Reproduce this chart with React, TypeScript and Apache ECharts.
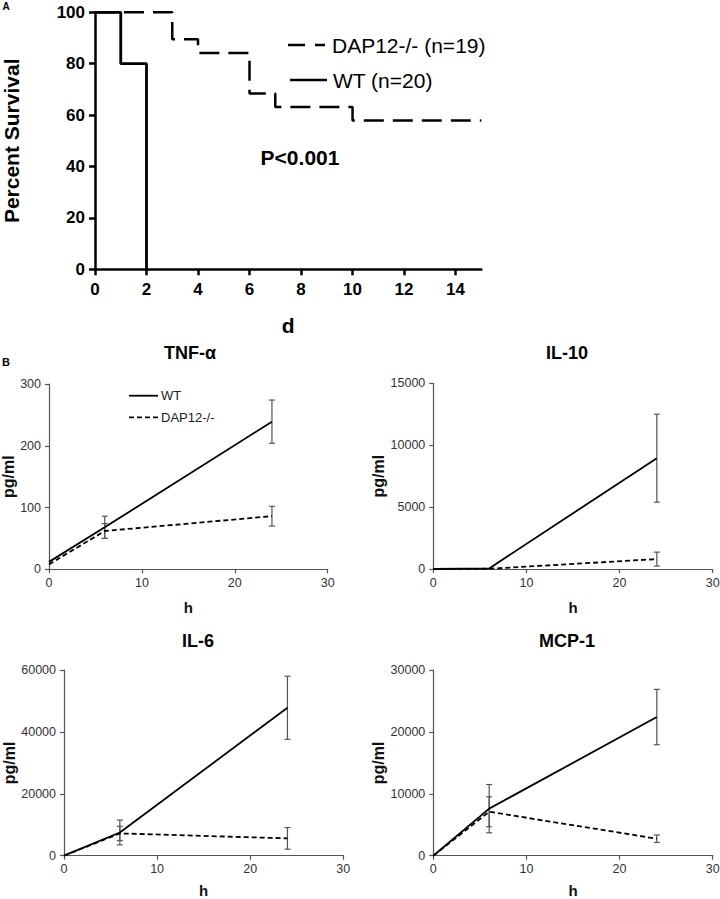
import React, { useEffect, useRef } from 'react';
import * as echarts from 'echarts';

const FONT = "'Liberation Sans', Arial, sans-serif";

// ---- Panel A: Kaplan-Meier survival ----
const dapDays = [0, 3, 4, 6, 7, 10, 15];
const dapSurvival = [100, 89.5, 84.2, 68.4, 63.2, 57.9, 57.9];
const wtDays = [0, 1, 2];
const wtSurvival = [100, 80, 0];
const kmXTicks = [0, 2, 4, 6, 8, 10, 12, 14];
const kmLegend = ['DAP12-/- (n=19)', 'WT (n=20)'];
const pText = 'P<0.001';

// ---- Panel B: cytokines (pg/ml) at hours ----
const hours = [0, 6, 24];
const panelTitles = ['TNF-α', 'IL-10', 'IL-6', 'MCP-1'];
const yMaxes = [300, 15000, 60000, 30000];
const yIntervals = [100, 5000, 20000, 10000];

const tnfWT = [12, 68, 239];
const tnfWTErr = [0, 18, 35];
const tnfDAP = [8, 62, 86];
const tnfDAPErr = [0, 12, 16];

const il10WT = [0, 50, 8950];
const il10WTErr = [0, 0, 3550];
const il10DAP = [0, 20, 800];
const il10DAPErr = [0, 0, 560];

const il6WT = [0, 7500, 47800];
const il6WTErr = [0, 4000, 10200];
const il6DAP = [0, 7200, 5600];
const il6DAPErr = [0, 2300, 3500];

const mcpWT = [0, 7600, 22400];
const mcpWTErr = [0, 3900, 4470];
const mcpDAP = [0, 7100, 2750];
const mcpDAPErr = [0, 2420, 600];

const wtSets = [tnfWT, il10WT, il6WT, mcpWT];
const wtErrSets = [tnfWTErr, il10WTErr, il6WTErr, mcpWTErr];
const dapSets = [tnfDAP, il10DAP, il6DAP, mcpDAP];
const dapErrSets = [tnfDAPErr, il10DAPErr, il6DAPErr, mcpDAPErr];

// layout
const grids = [
  { left: 95, top: 12.3, width: 386.3, height: 257 },
  { left: 49, top: 384, width: 278.7, height: 185.3 },
  { left: 433.3, top: 383.3, width: 279.4, height: 185.7 },
  { left: 64, top: 670, width: 279.3, height: 185.7 },
  { left: 433.3, top: 670, width: 279.4, height: 185.7 },
].map((g) => ({ ...g, containLabel: false, outerBoundsMode: 'none' }));
const yNameGaps = [33, 46, 46, 46];
const xNameGaps = [31, 31, 27, 27];
const titlePos = [
  [190, 353],
  [567, 353],
  [198, 641],
  [567, 641],
];

function errorBarSeries(gridIdx: number, vals: number[], errs: number[]) {
  const data = hours
    .map((h, i) => [h, vals[i] - errs[i], vals[i] + errs[i]])
    .filter((_, i) => errs[i] > 0);
  return {
    type: 'custom',
    xAxisIndex: gridIdx,
    yAxisIndex: gridIdx,
    clip: false,
    silent: true,
    encode: { x: 0, y: [1, 2] },
    data,
    renderItem: (params: any, api: any) => {
      const x = api.value(0);
      const lo = api.coord([x, api.value(1)]);
      const hi = api.coord([x, api.value(2)]);
      const cw = 3;
      const style = { stroke: '#555', lineWidth: 1.2 };
      return {
        type: 'group',
        children: [
          { type: 'line', shape: { x1: hi[0], y1: hi[1], x2: lo[0], y2: lo[1] }, style },
          { type: 'line', shape: { x1: hi[0] - cw, y1: hi[1], x2: hi[0] + cw, y2: hi[1] }, style },
          { type: 'line', shape: { x1: lo[0] - cw, y1: lo[1], x2: lo[0] + cw, y2: lo[1] }, style },
        ],
      };
    },
  };
}

export default function App() {
  const ref = useRef<HTMLDivElement>(null);
  useEffect(() => {
    if (!ref.current) return;
    const chart = echarts.init(ref.current, null, { renderer: 'svg' });

    const kmAxisStyle = {
      axisLine: { lineStyle: { color: '#000', width: 2.5 } },
      axisTick: { length: 6, lineStyle: { color: '#000', width: 2.5 } },
      splitLine: { show: false },
    };
    const plain = (v: number) => String(v);

    const xAxes: any[] = [
      {
        type: 'value',
        gridIndex: 0,
        min: 0,
        max: 15,
        ...kmAxisStyle,
        axisTick: { ...kmAxisStyle.axisTick, customValues: kmXTicks },
        axisLabel: {
          customValues: kmXTicks,
          formatter: plain,
          fontSize: 17,
          fontWeight: 'bold',
          color: '#000',
          fontFamily: FONT,
          margin: 12,
        },
        name: 'd',
        nameLocation: 'middle',
        nameGap: 46,
        nameTextStyle: { fontSize: 21, fontWeight: 'bold', color: '#000', fontFamily: FONT },
      },
    ];
    const yAxes: any[] = [
      {
        type: 'value',
        gridIndex: 0,
        min: 0,
        max: 100,
        interval: 20,
        ...kmAxisStyle,
        axisLabel: { formatter: plain, fontSize: 17, fontWeight: 'bold', color: '#000', fontFamily: FONT, margin: 10 },
        name: 'Percent Survival',
        nameLocation: 'middle',
        nameGap: 73,
        nameTextStyle: { fontSize: 21, fontWeight: 'bold', color: '#000', fontFamily: FONT },
      },
    ];

    const bAxisLine = { lineStyle: { color: '#555', width: 1.2 } };
    const bTick = { length: 4, lineStyle: { color: '#555', width: 1.2 } };
    for (let i = 0; i < 4; i++) {
      xAxes.push({
        type: 'value',
        gridIndex: i + 1,
        min: 0,
        max: 30,
        interval: 10,
        axisLine: bAxisLine,
        axisTick: bTick,
        splitLine: { show: false },
        axisLabel: { formatter: plain, color: '#333', fontSize: 12.5, fontFamily: FONT, margin: 7 },
        name: 'h',
        nameLocation: 'middle',
        nameGap: xNameGaps[i],
        nameTextStyle: { fontSize: 15, fontWeight: 'bold', color: '#111', fontFamily: FONT },
      });
      yAxes.push({
        type: 'value',
        gridIndex: i + 1,
        min: 0,
        max: yMaxes[i],
        interval: yIntervals[i],
        axisLine: bAxisLine,
        axisTick: bTick,
        splitLine: { show: false },
        axisLabel: { formatter: plain, color: '#333', fontSize: 12.5, fontFamily: FONT, margin: 8 },
        name: 'pg/ml',
        nameLocation: 'middle',
        nameGap: yNameGaps[i],
        nameTextStyle: { fontSize: 16, fontWeight: 'bold', color: '#111', fontFamily: FONT },
      });
    }

    const series: any[] = [
      {
        type: 'line',
        name: kmLegend[0],
        xAxisIndex: 0,
        yAxisIndex: 0,
        step: 'end',
        symbol: 'none',
        clip: false,
        data: dapDays.map((d, i) => [d, dapSurvival[i]]),
        lineStyle: { color: '#000', width: 2.5, type: [20, 9] },
      },
      {
        type: 'line',
        name: kmLegend[1],
        xAxisIndex: 0,
        yAxisIndex: 0,
        step: 'end',
        symbol: 'none',
        clip: false,
        data: wtDays.map((d, i) => [d, wtSurvival[i]]),
        lineStyle: { color: '#000', width: 2.8 },
      },
    ];
    for (let i = 0; i < 4; i++) {
      const g = i + 1;
      series.push(errorBarSeries(g, wtSets[i], wtErrSets[i]));
      series.push(errorBarSeries(g, dapSets[i], dapErrSets[i]));
      series.push({
        type: 'line',
        name: 'WT',
        xAxisIndex: g,
        yAxisIndex: g,
        symbol: 'none',
        clip: false,
        data: hours.map((h, k) => [h, wtSets[i][k]]),
        lineStyle: { color: '#000', width: 1.8 },
      });
      series.push({
        type: 'line',
        name: 'DAP12-/-',
        xAxisIndex: g,
        yAxisIndex: g,
        symbol: 'none',
        clip: false,
        data: hours.map((h, k) => [h, dapSets[i][k]]),
        lineStyle: { color: '#000', width: 1.8, type: [5, 3] },
      });
    }

    const txt = (x: number, y: number, text: string, size: number, bold: boolean, align = 'center', fill = '#000') => ({
      type: 'text',
      x,
      y,
      silent: true,
      style: {
        text,
        fontSize: size,
        fontWeight: bold ? 'bold' : 'normal',
        fontFamily: FONT,
        fill,
        align,
        verticalAlign: 'middle',
      },
    });
    const ln = (x1: number, y1: number, x2: number, y2: number, w: number, dash?: number[]) => ({
      type: 'line',
      silent: true,
      shape: { x1, y1, x2, y2 },
      style: { stroke: '#000', lineWidth: w, lineDash: dash },
    });

    const graphic: any[] = [
      txt(6, 6.5, 'A', 10, true),
      txt(6, 362, 'B', 11, true),
      txt(300, 157, pText, 21, true),
      ln(288, 45, 325, 45, 2.5, [17, 10]),
      txt(332, 45, kmLegend[0], 21, false, 'left'),
      ln(290, 80, 327, 80, 2.5),
      txt(333, 80, kmLegend[1], 21, false, 'left'),
      ln(129, 395.7, 158, 395.7, 1.8),
      txt(161, 395.7, 'WT', 13, false, 'left', '#222'),
      ln(129, 417.3, 158, 417.3, 1.8, [5, 3]),
      txt(161, 417.3, 'DAP12-/-', 13, false, 'left', '#222'),
    ];
    for (let i = 0; i < 4; i++) {
      graphic.push(txt(titlePos[i][0], titlePos[i][1], panelTitles[i], 18, true));
    }

    chart.setOption({
      animation: false,
      backgroundColor: '#fff',
      textStyle: { fontFamily: FONT },
      grid: grids,
      xAxis: xAxes,
      yAxis: yAxes,
      series,
      graphic,
    });
    return () => chart.dispose();
  }, []);
  return <div ref={ref} style={{ position: 'absolute', left: 0, top: 0, width: 720, height: 899 }} />;
}
